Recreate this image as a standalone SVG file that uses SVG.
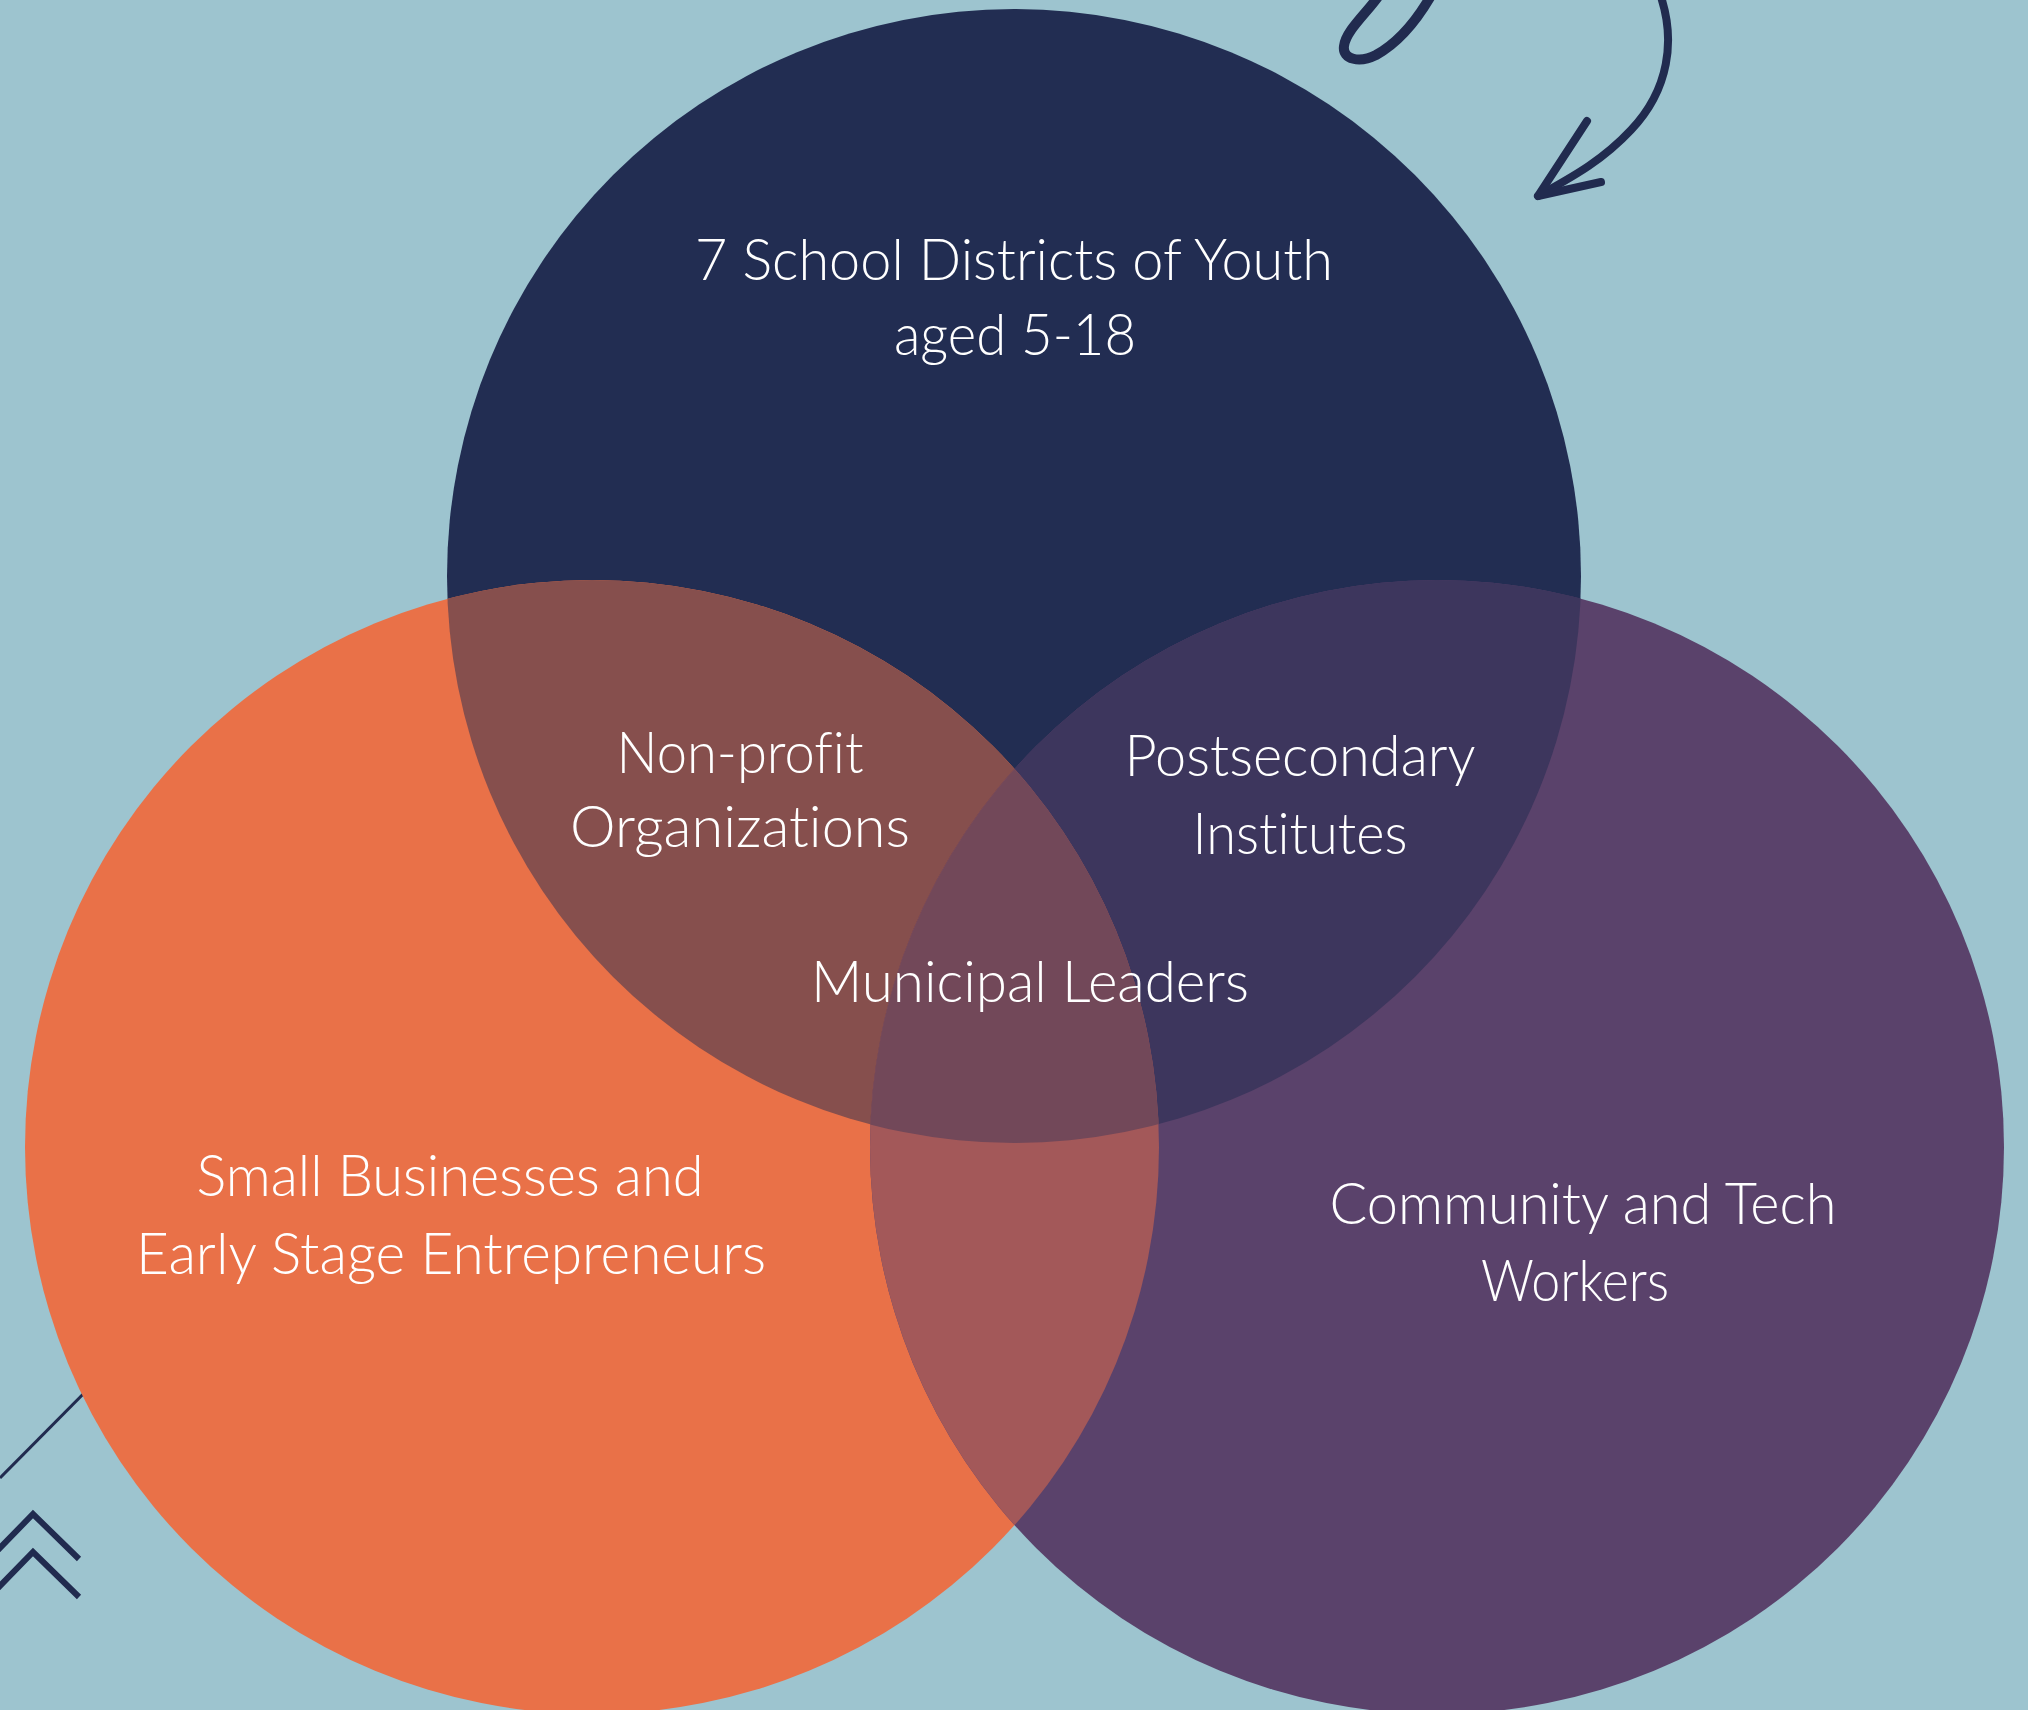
<svg xmlns="http://www.w3.org/2000/svg" width="2028" height="1710" viewBox="0 0 2028 1710">
<style>
.lbl{font-family:Lato,"Open Sans","Liberation Sans",sans-serif;font-weight:300;font-size:58px;fill:#ffffff;text-anchor:middle;font-variant-ligatures:none;font-feature-settings:"liga" 0,"clig" 0}
.deco{fill:none;stroke:#212B4F;stroke-linecap:round;stroke-linejoin:round}
</style>
<defs>
<clipPath id="cN"><circle cx="1014" cy="576" r="567"/></clipPath>
<clipPath id="cP"><circle cx="1437" cy="1147" r="567"/></clipPath>
</defs>
<rect x="0" y="0" width="2028" height="1710" fill="#9DC4CF"/>
<g id="decorations">
<path class="deco" d="M1380,-6 C1368,12 1346,30 1344,46 C1342,60 1360,63 1376,55 C1396,44 1416,22 1432,-6" stroke-width="10"/>
<path class="deco" d="M1660,-6 C1676,40 1669,90 1631,130 C1601,162 1570,178 1538,196" stroke-width="8"/>
<path class="deco" d="M1587,121 L1538,196 L1601,182" stroke-width="8"/>
<path d="M0,1478 L110,1367" stroke="#212B4F" stroke-width="3"/>
<path d="M-5,1553 L33,1514 L79,1559" fill="none" stroke="#212B4F" stroke-width="6"/>
<path d="M-5,1591 L33,1552 L79,1597" fill="none" stroke="#212B4F" stroke-width="6"/>
</g>
<g id="node-youth"><circle cx="1014" cy="576" r="567" fill="#222D52"/></g>
<g id="node-small-business"><circle cx="592" cy="1147" r="567" fill="#E97148"/></g>
<g id="node-community"><circle cx="1437" cy="1147" r="567" fill="#5A426B"/></g>
<g id="overlaps">
<circle cx="592" cy="1147" r="567" fill="#864F4D" clip-path="url(#cN)"/>
<circle cx="1437" cy="1147" r="567" fill="#3D365D" clip-path="url(#cN)"/>
<circle cx="592" cy="1147" r="567" fill="#A35859" clip-path="url(#cP)"/>
<g clip-path="url(#cP)"><circle cx="592" cy="1147" r="567" fill="#724859" clip-path="url(#cN)"/></g>
</g>
<g id="connectors"></g>
<g id="labels">
<text class="lbl" x="1014" y="280" textLength="638" lengthAdjust="spacingAndGlyphs">7 School Districts of Youth</text>
<text class="lbl" x="1015" y="355" textLength="242" lengthAdjust="spacingAndGlyphs">aged 5-18</text>
<text class="lbl" x="740" y="773" textLength="247" lengthAdjust="spacingAndGlyphs">Non-profit</text>
<text class="lbl" x="740" y="847" textLength="340" lengthAdjust="spacingAndGlyphs">Organizations</text>
<text class="lbl" x="1300" y="776" textLength="351" lengthAdjust="spacingAndGlyphs">Postsecondary</text>
<text class="lbl" x="1300" y="854" textLength="215" lengthAdjust="spacingAndGlyphs">Institutes</text>
<text class="lbl" x="1030" y="1002" textLength="438" lengthAdjust="spacingAndGlyphs">Municipal Leaders</text>
<text class="lbl" x="450" y="1196" textLength="507" lengthAdjust="spacingAndGlyphs">Small Businesses and</text>
<text class="lbl" x="451" y="1274" textLength="630" lengthAdjust="spacingAndGlyphs">Early Stage Entrepreneurs</text>
<text class="lbl" x="1583" y="1224" textLength="507" lengthAdjust="spacingAndGlyphs">Community and Tech</text>
<text class="lbl" x="1575" y="1301" textLength="188" lengthAdjust="spacingAndGlyphs">Workers</text>
</g>
</svg>
